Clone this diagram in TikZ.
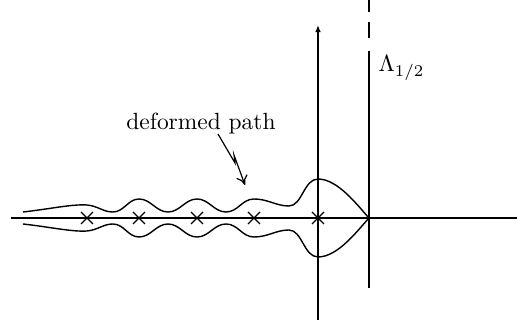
\documentclass[tikz,border=0pt]{standalone}
\usetikzlibrary{arrows.meta}
\begin{document}
\begin{tikzpicture}[x=0.015cm,y=-0.015cm,line width=0.6pt]
    \useasboundingbox (0,0) rectangle (517,327);
    % 坐标轴
    \draw (11,218) -- (517,218);
    \draw[-{Latex[length=3pt,width=2.4pt]}] (318,320) -- (318,25);

    % 直线 Lambda_{1/2}
    \draw[dash pattern=on 7pt off 4pt] (369,38) -- (369,0);
    \draw (369,51) -- (369,288);
    \node[anchor=base west, inner sep=0pt] (lam) at (378,72) {$\Lambda_{1/2}$};

    % 极点
    \foreach \x in {87,139,197,254,318} {
        \draw[line width=0.5pt] (\x-6,212) -- (\x+6,224);
        \draw[line width=0.5pt] (\x-6,224) -- (\x+6,212);
    }

    % 变形路径 (上下对称)
    \foreach \s in {1,-1} {
      \begin{scope}[shift={(0,218)}, yscale=\s]
        \draw (23,-6) .. controls (50,-9) and (72,-14) .. (87,-13)
          .. controls (98,-12) and (103,-6) .. (113,-6)
          .. controls (124,-6) and (128,-19) .. (139,-19)
          .. controls (151,-19) and (156,-6) .. (168,-6)
          .. controls (180,-6) and (185,-19) .. (197,-19)
          .. controls (209,-19) and (214,-6) .. (226,-6)
          .. controls (238,-6) and (242,-19) .. (254,-19)
          .. controls (268,-19) and (276,-12) .. (289,-12)
          .. controls (302,-12) and (304,-39) .. (318,-39)
          .. controls (338,-39) and (358,-12) .. (369,0);
      \end{scope}
    }

    % 标注
    \node[anchor=base, inner sep=0pt] (lbl) at (201,130) {deformed path};
    \coordinate (tip) at (245,185);
    \draw[-{To[length=4pt,width=5pt]}, line width=0.5pt]
        ([shift={(17,4)}]lbl.base) -- ++(17,29) -- ++(-1,-8) -- (tip);
\end{tikzpicture}
\end{document}
